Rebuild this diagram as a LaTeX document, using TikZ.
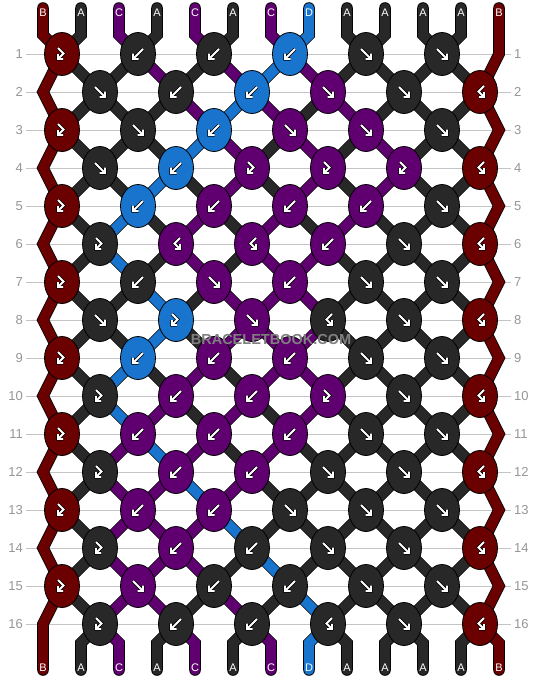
\documentclass[tikz,border=0pt]{standalone}
\usepackage{fontspec}
\setmainfont{Liberation Sans}
\usepackage{tikz}
\usetikzlibrary{shapes.geometric}
\pgfdeclarelayer{background}
\pgfsetlayers{background,main}
\definecolor{bbred}{RGB}{106,0,0}
\definecolor{bbgray}{RGB}{40,40,40}
\definecolor{bbpurple}{RGB}{96,0,112}
\definecolor{bbblue}{RGB}{24,116,205}
\definecolor{bbline}{RGB}{196,196,196}
\definecolor{bblabel}{RGB}{150,150,150}
\definecolor{bbmark}{RGB}{128,128,128}
\colorlet{strA}{bbgray}
\colorlet{strB}{bbred}
\colorlet{strC}{bbpurple}
\colorlet{strD}{bbblue}
\tikzstyle{thread} = [draw=black, line width=0.8pt, double distance=10pt, line cap=round]
\tikzstyle{knot} = [ellipse, draw=black, line width=0.8pt, minimum width=35pt, minimum height=43pt, inner sep=0pt]
\tikzstyle{signout} = [draw=black, line width=3.4pt]
\tikzstyle{signin} = [draw=white, line width=1.8pt]
\tikzstyle{rowlabel} = [text=bblabel, font=\fontsize{13}{13}\selectfont, inner sep=3pt]
\tikzstyle{rowline} = [draw=bbline, line width=1pt]
\tikzstyle{endlabel} = [text=white, font=\fontsize{11}{11}\selectfont, inner sep=0pt]
\tikzstyle{wmark} = [font=\fontsize{14.5}{14.5}\selectfont\bfseries, inner sep=0pt]
% knot signs: forward, backward, forward-backward, backward-forward
\def\sgf{(-5,-5) -- (5,5) (5,-0.5) -- (5,5) -- (-0.5,5)}
\def\sgb{(5,-5) -- (-5,5) (-5,-0.5) -- (-5,5) -- (0.5,5)}
\def\sgfb{(-4,-6) -- (1.5,-0.5) -- (-4,5) (-4,0) -- (-4,5) -- (1,5)}
\def\sgbf{(4,-6) -- (-1.5,-0.5) -- (4,5) (4,0) -- (4,5) -- (-1,5)}
\begin{document}
\begin{tikzpicture}[x=1pt, y=-1pt]
\begin{pgfonlayer}{background}
\path[use as bounding box, fill=white] (0,0) rectangle (544,680);
\end{pgfonlayer}

% Knots, row by row
\foreach \knots [count=\rw] in {
  {fb/B,b/A,b/A,b/D,f/A,f/A},
  {f/A,b/A,b/D,f/C,f/A,bf/B},
  {fb/B,f/A,b/D,f/C,f/C,f/A},
  {f/A,b/D,fb/C,fb/C,fb/C,bf/B},
  {fb/B,b/D,b/C,b/C,b/C,f/A},
  {fb/A,bf/C,bf/C,b/C,f/A,bf/B},
  {fb/B,b/A,f/C,b/C,f/A,f/A},
  {f/A,fb/D,f/C,bf/A,f/A,bf/B},
  {fb/B,b/D,b/C,b/C,f/A,f/A},
  {fb/A,b/C,b/C,fb/C,f/A,bf/B},
  {fb/B,b/C,b/C,b/C,f/A,f/A},
  {fb/A,b/C,b/C,f/A,f/A,bf/B},
  {fb/B,b/C,b/C,f/A,f/A,f/A},
  {fb/A,b/C,b/A,f/A,f/A,bf/B},
  {fb/B,f/C,b/A,b/A,f/A,f/A},
  {fb/A,b/A,b/A,bf/A,f/A,bf/B}} {
  \pgfmathsetmacro\ky{54+38*(\rw-1)}
  \ifodd\rw\relax \def\kx{62}\def\po{0}\else \def\kx{100}\def\po{1}\fi
  \foreach \kt/\kc [count=\kn] in \knots {
    \node[knot, fill=str\kc] (k-\rw-\kn) at ({\kx+76*(\kn-1)},\ky) {};
    \expandafter\let\expandafter\sg\csname sg\kt\endcsname
    \draw[signout, shift={(k-\rw-\kn)}] \sg;
    \draw[signin, shift={(k-\rw-\kn)}] \sg;
    \pgfmathtruncatemacro\pa{2*\kn-1+\po}
    \pgfmathtruncatemacro\pb{\pa+1}
    \coordinate (s-\rw-\pa) at (k-\rw-\kn);
    \coordinate (s-\rw-\pb) at (k-\rw-\kn);
  }
  \ifodd\rw\relax \coordinate (s-\rw-13) at (499,\ky); \else \coordinate (s-\rw-1) at (43,\ky); \fi
  % row numbers
  \node[rowlabel, anchor=east] (ll-\rw) at (26,\ky) {\rw};
  \node[rowlabel, anchor=west] (lr-\rw) at (511,\ky) {\rw};
  \begin{pgfonlayer}{background}
    \draw[rowline] (ll-\rw) -- (lr-\rw);
  \end{pgfonlayer}
}

% String ends
\foreach \kc [count=\ps] in {B,A,C,A,C,A,C,D,A,A,A,A,B} {
  \pgfmathsetmacro\sx{43+38*(\ps-1)}
  \coordinate (t-\ps) at (\sx,8);
  \coordinate (u-\ps) at (\sx,35);
  \coordinate (v-\ps) at (\sx,643);
  \coordinate (w-\ps) at (\sx,670);
  \node[endlabel] (lt-\ps) at (\sx,12.5) {\kc};
  \node[endlabel] (lb-\ps) at (\sx,668) {\kc};
}

% Threads
\begin{pgfonlayer}{background}
\draw[thread, double=strB] (t-1) -- (u-1) \foreach \rw in {1,...,16} { -- (s-\rw-1) } -- (v-1) -- (w-1);
\draw[thread, double=strB] (t-13) -- (u-13) \foreach \rw in {1,...,16} { -- (s-\rw-13) } -- (v-13) -- (w-13);
\foreach \kc [count=\ps] in {B,A,C,A,C,A,C,D,A,A,A,A,B} {
  \ifnum\ps>1 \ifnum\ps<13
    \draw[thread, double=str\kc] (t-\ps) -- (u-\ps) -- (s-1-\ps);
    \draw[thread, double=str\kc] (s-16-\ps) -- (v-\ps) -- (w-\ps);
  \fi\fi
}
\foreach \strs [count=\rw] in {
  {B,A,A,C,A,C,D,C,A,A,A,A,B},
  {B,A,A,A,C,D,C,A,C,A,A,A,B},
  {B,A,A,A,D,C,A,C,A,C,A,A,B},
  {B,A,A,D,A,C,A,C,A,C,A,A,B},
  {B,A,D,A,C,A,C,A,C,A,A,A,B},
  {B,A,D,A,C,A,C,C,A,A,A,A,B},
  {B,A,A,D,A,C,C,C,A,A,A,A,B},
  {B,A,A,D,A,C,C,C,A,A,A,A,B},
  {B,A,D,A,C,A,C,C,A,A,A,A,B},
  {B,A,D,C,A,C,A,C,A,A,A,A,B},
  {B,A,C,D,C,A,C,A,A,A,A,A,B},
  {B,A,C,C,D,C,A,A,A,A,A,A,B},
  {B,A,C,C,C,D,A,A,A,A,A,A,B},
  {B,A,C,C,C,A,D,A,A,A,A,A,B},
  {B,A,C,C,A,C,A,D,A,A,A,A,B}} {
  \pgfmathtruncatemacro\rn{\rw+1}
  \foreach \kc [count=\ps] in \strs {
    \ifnum\ps>1 \ifnum\ps<13
      \draw[thread, double=str\kc] (s-\rw-\ps) -- (s-\rn-\ps);
    \fi\fi
  }
}
\end{pgfonlayer}

% Watermark
\node[wmark, text=bbmark] (wm) at (271,340) {BRACELETBOOK.COM};
\end{tikzpicture}
\end{document}
